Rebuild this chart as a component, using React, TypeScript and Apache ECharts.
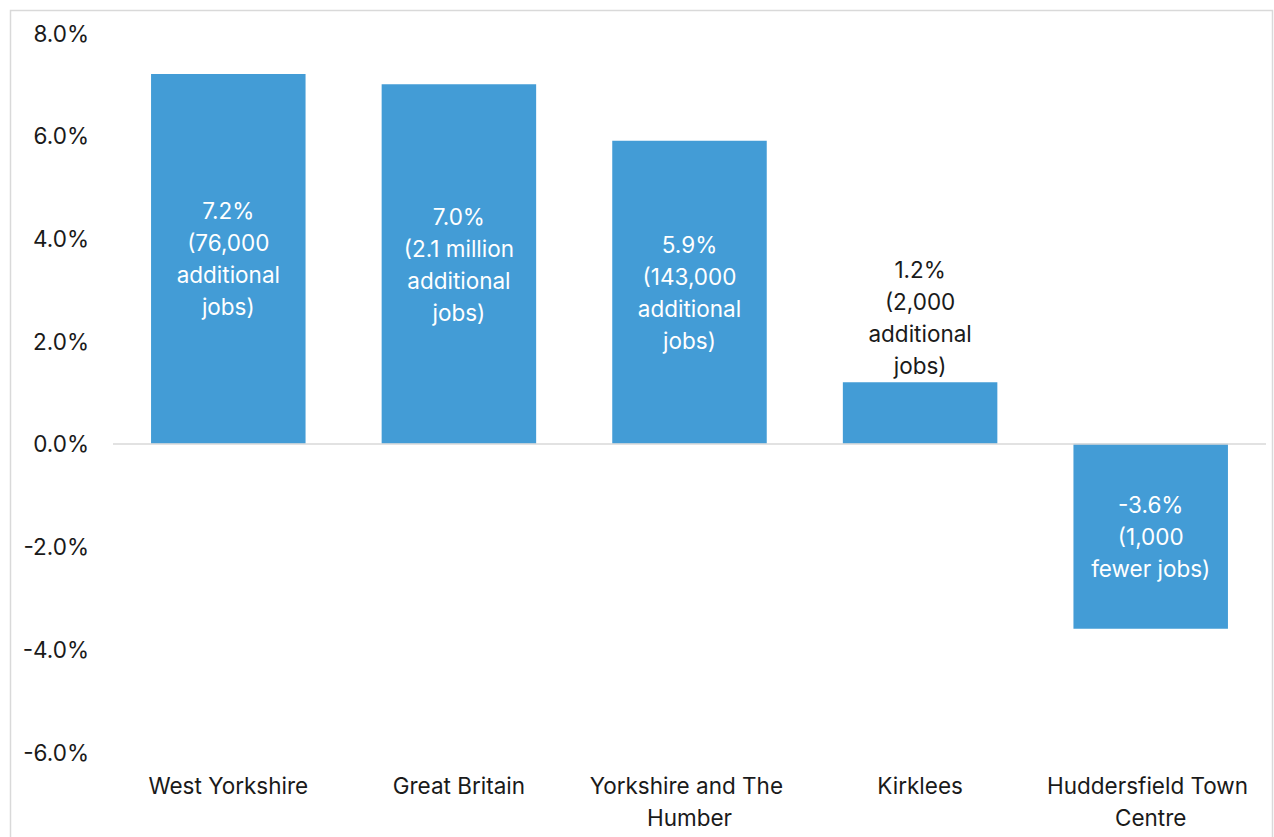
import React, { useEffect, useRef } from "react";
import * as echarts from "echarts";

const categories = [
  "West Yorkshire",
  "Great Britain",
  "Yorkshire and The Humber",
  "Kirklees",
  "Huddersfield Town Centre",
];
const values = [7.2, 7.0, 5.9, 1.2, -3.6];
const valueLabels = [
  "7.2%\n(76,000\nadditional\njobs)",
  "7.0%\n(2.1 million\nadditional\njobs)",
  "5.9%\n(143,000\nadditional\njobs)",
  "1.2%\n(2,000\nadditional\njobs)",
  "-3.6%\n(1,000\nfewer jobs)",
];
const labelOutside = [false, false, false, true, false];

const FONT = "Inter";
const FS = 22.5;
const BAR = "#439CD6";

export default function App() {
  const ref = useRef<HTMLDivElement>(null);
  useEffect(() => {
    if (!ref.current) return;
    const chart = echarts.init(ref.current, undefined, { renderer: "svg" });
    chart.setOption({
      animation: false,
      textStyle: { fontFamily: FONT },
      graphic: [
        {
          type: "rect",
          shape: { x: 10.5, y: 10.5, width: 1262, height: 860 },
          style: { fill: "none", stroke: "#d9d9d9", lineWidth: 1.5 },
          silent: true,
        },
      ],
      grid: { left: 113, right: 8, top: 33, bottom: 85, containLabel: false },
      xAxis: {
        type: "category",
        data: categories,
        position: "bottom",
        axisLine: { show: false, onZero: false },
        axisTick: { show: false },
        axisLabel: {
          color: "#1a1a1a",
          fontSize: FS,
          fontFamily: FONT,
          lineHeight: 32,
          margin: 17,
          width: 225,
          overflow: "break",
          interval: 0,
        },
      },
      yAxis: {
        type: "value",
        min: -6,
        max: 8,
        interval: 2,
        axisLine: { show: false },
        axisTick: { show: false },
        splitLine: { show: false },
        axisLabel: {
          color: "#1a1a1a",
          fontSize: FS,
          fontFamily: FONT,
          margin: 24,
          formatter: (v: number) => v.toFixed(1) + "%",
        },
      },
      series: [
        {
          type: "bar",
          barWidth: "67%",
          data: values.map((v, i) => ({
            value: v,
            label: labelOutside[i]
              ? { position: "top", color: "#1a1a1a", distance: 1 }
              : { position: "inside", color: "#ffffff" },
          })),
          itemStyle: { color: BAR },
          label: {
            show: true,
            fontSize: FS,
            fontFamily: FONT,
            lineHeight: 32,
            align: "center",
            formatter: (p: any) => valueLabels[p.dataIndex],
          },
          markLine: {
            silent: true,
            symbol: "none",
            label: { show: false },
            lineStyle: { color: "#d9d9d9", type: "solid", width: 1.5 },
            data: [{ yAxis: 0 }],
          },
        },
      ],
    });
    return () => chart.dispose();
  }, []);
  return (
    <div
      ref={ref}
      style={{ position: "fixed", left: 0, top: 0, width: 1274, height: 837, background: "#fff" }}
    />
  );
}
